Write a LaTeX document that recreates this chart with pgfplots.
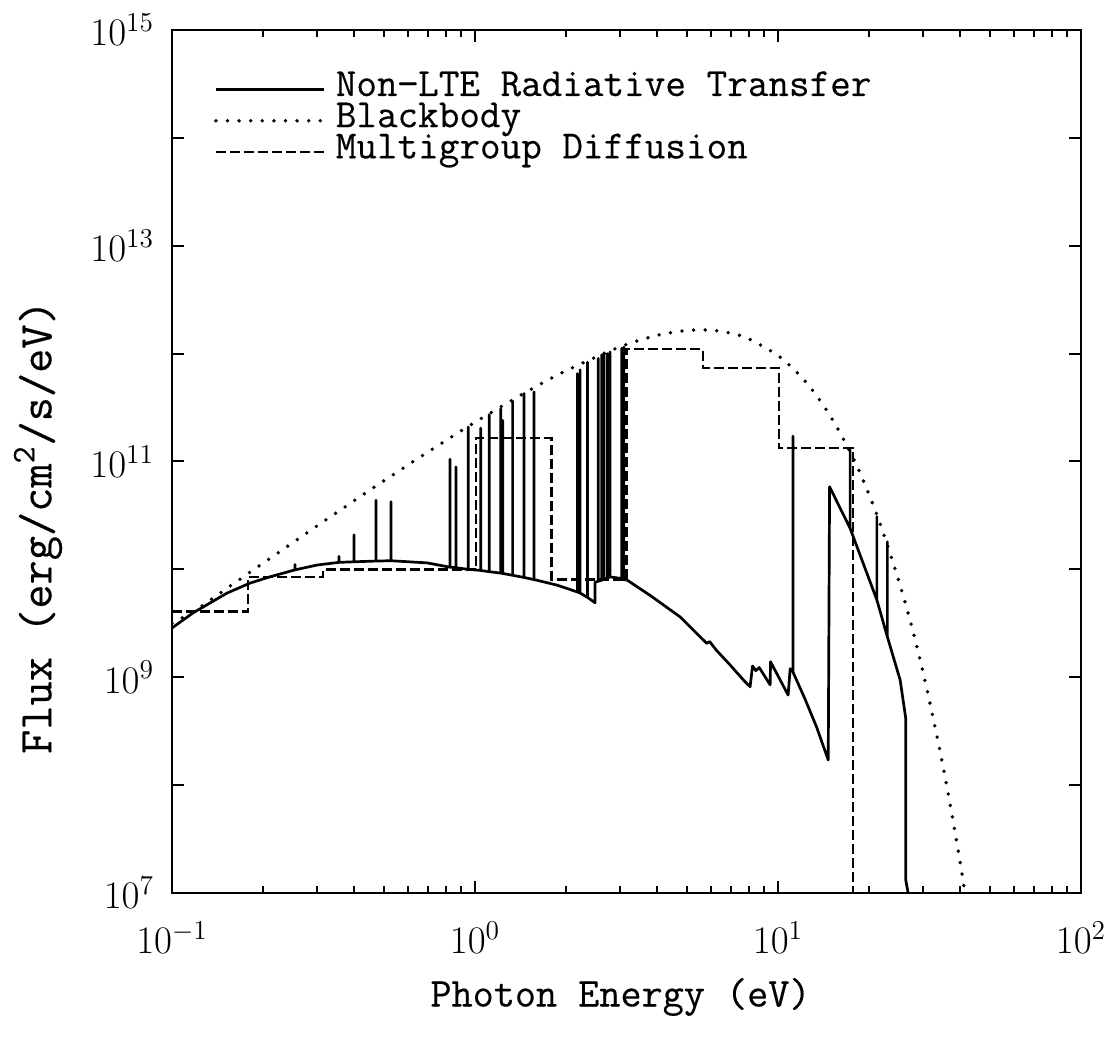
\RequirePackage{fix-cm}
\documentclass[border=0pt]{standalone}
\usepackage{fontspec}
\newfontfamily\labfont{Latin Modern Mono}[FakeBold=0.35]
\usepackage{pgfplots}
\pgfplotsset{compat=1.18}
\begin{document}
\begin{tikzpicture}
\path[use as bounding box] (-86pt,-74.5pt) rectangle (474pt,446.5pt);
\begin{axis}[
  at={(0pt,0pt)}, anchor=south west, scale only axis,
  width=454.5pt, height=431.5pt,
  xmode=log, ymode=log,
  xmin=0.1, xmax=100, ymin=1e7, ymax=1e15,
  xtick={0.1,1,10,100},
  xticklabels={$10^{-1}$,$10^{0}$,$10^{1}$,$10^{2}$},
  ytick={1e7,1e8,1e9,1e10,1e11,1e12,1e13,1e14,1e15},
  yticklabels={$10^{7}$,,$10^{9}$,,$10^{11}$,,$10^{13}$,,$10^{15}$},
  yminorticks=false,
  tick align=inside,
  major tick length=6pt, minor tick length=3.5pt,
  axis line style={line width=1.2pt},
  every tick/.style={black, line width=1pt},
  tick label style={font=\fontsize{19.5}{20}\selectfont},
  xticklabel style={yshift=-11pt},
  yticklabel style={xshift=-5.5pt},
  xlabel={Photon Energy (eV)},
  ylabel={Flux (erg/cm\textsuperscript{2}/s/eV)},
  every axis x label/.style={at={(axis description cs:0.5,0)}, anchor=center, yshift=-52pt, xshift=-3pt, font=\labfont\fontsize{20.5}{21}\selectfont},
  every axis y label/.style={at={(axis description cs:0,0.424)}, anchor=center, xshift=-67pt, rotate=90, font=\labfont\fontsize{23.5}{24}\selectfont},
  legend style={at={(axis description cs:0,1)}, anchor=north west, xshift=21pt, yshift=-22pt,
    draw=none, fill=none, inner sep=0pt, outer sep=0pt, row sep=0pt,
    font=\labfont\fontsize{20}{20}\selectfont,
    nodes={inner sep=0pt, text height=11pt, text depth=4.6pt},
    /tikz/every odd column/.append style={column sep=5pt}},
  legend cell align=left,
  legend image code/.code={\draw[#1] (0pt,0pt) -- (54pt,0pt);},
]
\addplot[black, line width=1.35pt, line join=round] coordinates {
(0.1,2.86e9) (0.1172,3.94e9) (0.152,6.03e9) (0.181,7.46e9) (0.21,8.51e9)
(0.2547,9.89e9) (0.2547,1.11e10) (0.2547,9.89e9)
(0.301,1.096e10)
(0.3556,1.161e10) (0.3556,1.318e10) (0.3556,1.161e10)
(0.399,1.175e10) (0.399,2.09e10) (0.399,1.175e10)
(0.471,1.194e10) (0.471,4.37e10) (0.471,1.194e10)
(0.528,1.202e10) (0.528,4.23e10) (0.528,1.202e10)
(0.695,1.148e10)
(0.827,1.047e10) (0.827,1.047e11) (0.827,1.047e10)
(0.865,1.035e10) (0.865,8.91e10) (0.865,1.035e10)
(0.950,1.0e10) (0.950,2.09e11) (0.950,1.0e10)
(1.044,9.77e9) (1.044,2.04e11) (1.044,9.77e9)
(1.114,9.51e9) (1.114,2.72e11) (1.114,9.51e9)
(1.216,9.23e9) (1.216,3.09e11) (1.216,9.23e9)
(1.234,9.16e9) (1.234,2.40e11) (1.234,9.16e9)
(1.331,8.81e9) (1.331,3.63e11) (1.331,8.81e9)
(1.452,8.41e9) (1.452,4.27e11) (1.452,8.41e9)
(1.567,8.04e9) (1.567,4.42e11) (1.567,8.04e9)
(1.87,7.13e9)
(2.177,6.17e9) (2.177,6.53e11) (2.177,6.17e9)
(2.223,6.03e9) (2.223,7.08e11) (2.223,6.03e9)
(2.35,5.50e9) (2.35,8.32e11) (2.35,5.50e9)
(2.49,4.90e9) (2.49,7.59e9)
(2.553,7.76e9) (2.553,9.02e11) (2.553,7.76e9)
(2.62,7.94e9) (2.62,9.77e11) (2.62,7.94e9)
(2.666,8.13e9) (2.666,1.0e12) (2.666,8.13e9)
(2.735,8.32e9) (2.735,1.0e12) (2.735,8.32e9)
(2.79,8.51e9) (2.79,1.035e12) (2.79,8.51e9)
(3.05,8.22e9) (3.05,1.122e12) (3.05,8.22e9)
(3.10,8.04e9) (3.10,1.148e12) (3.10,8.04e9)
(3.18,7.94e9) (3.78,5.75e9) (4.75,3.63e9) (5.25,2.74e9) (5.82,2.06e9)
(5.95,2.14e9) (6.26,1.78e9) (6.95,1.30e9) (7.69,9.42e8) (8.09,8.15e8)
(8.24,1.27e9) (8.45,1.15e9) (8.67,1.23e9) (9.42,8.51e8) (9.45,1.39e9)
(10.8,6.84e8) (10.97,1.20e9)
(11.2,1.12e9) (11.2,1.72e11) (11.2,1.12e9)
(12.27,6.31e8) (13.4,3.47e8) (14.65,1.71e8) (14.8,5.83e10)
(17.3,2.40e10) (17.3,1.28e11) (17.3,2.40e10)
(21.2,5.20e9) (21.2,3.09e10) (21.2,5.20e9)
(22.96,2.37e9) (22.96,1.80e10) (22.96,2.37e9)
(25.3,9.42e8) (26.4,4.17e8) (26.4,1.32e7) (27.3,7.9e6)
};
\addlegendentry{Non\char"2212 LTE Radiative Transfer}
\addplot[black, line width=1.9pt, line cap=round, dash pattern=on 0pt off 5.8pt, smooth] coordinates {
(0.1,3.16e9) (0.12,4.20e9) (0.15,6.52e9) (0.2,1.143e10) (0.3,2.506e10)
(0.4,4.35e10) (0.5,6.61e10) (0.7,1.227e11) (1,2.31e11) (1.5,4.52e11)
(2,6.95e11) (3,1.151e12) (4,1.479e12) (5,1.637e12) (6,1.648e12)
(7,1.545e12) (8,1.371e12) (10,9.59e11) (12,5.98e11) (14,3.44e11)
(16,1.86e11) (18,9.77e10) (20,4.90e10) (22,2.40e10) (25,7.94e9)
(28,2.57e9) (31,7.76e8) (34,2.29e8) (37,6.61e7) (40,1.86e7) (43,5.0e6)
};
\addlegendentry{Blackbody}
\addplot[black, line width=1.3pt, dash pattern=on 5pt off 2pt] coordinates {
(0.1,4.05e9) (0.178,4.05e9) (0.178,8.51e9) (0.315,8.51e9)
(0.315,1.0e10) (1.007,1.0e10) (1.007,1.65e11) (1.79,1.65e11)
(1.79,8.05e9) (3.16,8.05e9) (3.16,1.10e12) (5.65,1.10e12)
(5.65,7.35e11) (10.07,7.35e11) (10.07,1.33e11) (17.7,1.33e11)
(17.7,1e6)
};
\addlegendentry{Multigroup Diffusion}
\end{axis}
\end{tikzpicture}
\end{document}
